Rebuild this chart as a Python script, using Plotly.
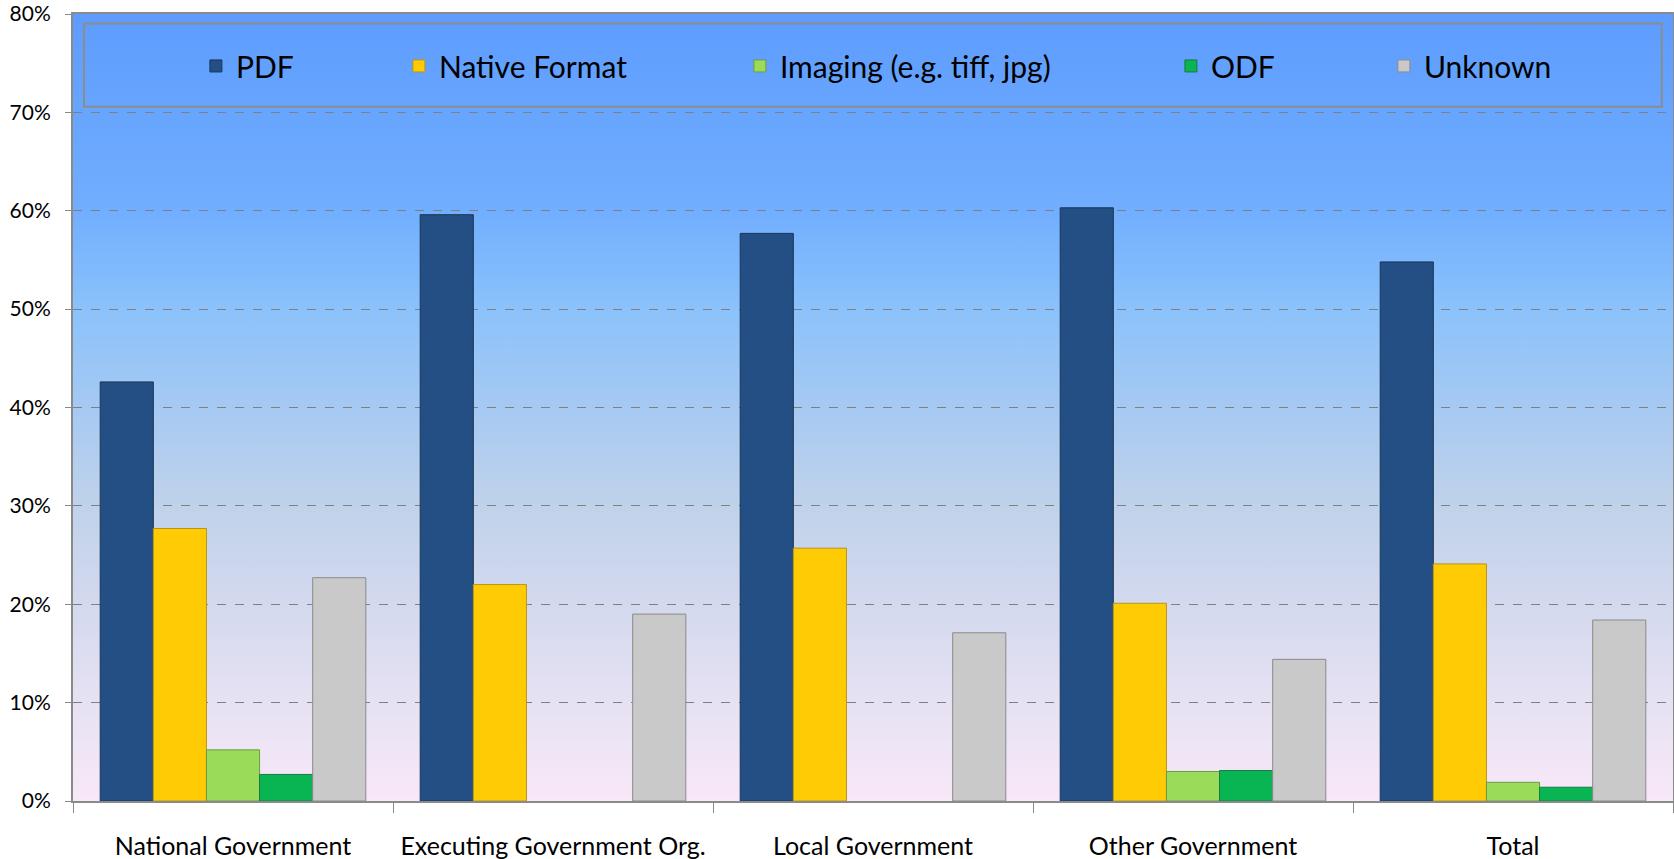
import base64
import plotly.graph_objects as go

categories = ["National Government", "Executing Government Org.", "Local Government",
              "Other Government", "Total"]
series_names = ["PDF", "Native Format", "Imaging (e.g. tiff, jpg)", "ODF", "Unknown"]
pdf = [0.426, 0.596, 0.577, 0.603, 0.548]
native_format = [0.277, 0.220, 0.257, 0.201, 0.241]
imaging = [0.052, 0.0, 0.0, 0.030, 0.019]
odf = [0.027, 0.0, 0.0, 0.031, 0.014]
unknown = [0.227, 0.190, 0.171, 0.144, 0.184]
y_ticks = [0, 0.1, 0.2, 0.3, 0.4, 0.5, 0.6, 0.7, 0.8]

series_values = [pdf, native_format, imaging, odf, unknown]
colors = ["#244f84", "#ffcb05", "#9bdb5a", "#08b552", "#c9c9c9"]
line_colors = ["#1a3558", "#b8941a", "#6f9a45", "#1a7a45", "#8a8a8a"]
legend_x = [0.0768, 0.2037, 0.4168, 0.6862, 0.8193]
legend_ids = ["legend", "legend2", "legend3", "legend4", "legend5"]

FONT = "Lato"

fig = go.Figure()
for name, vals, c, lc, lid in zip(series_names, series_values, colors, line_colors, legend_ids):
    fig.add_trace(go.Bar(
        x=categories, y=vals, name=name, legend=lid, showlegend=True,
        marker=dict(color=c, line=dict(color=lc, width=[1 if v > 0 else 0 for v in vals])),
    ))

# gradient background as SVG image
svg = ('<svg xmlns="http://www.w3.org/2000/svg" width="100" height="100" preserveAspectRatio="none">'
       '<defs><linearGradient id="g" x1="0" y1="0" x2="0" y2="1">'
       '<stop offset="0" stop-color="#5d9cfe"/>'
       '<stop offset="0.25" stop-color="#71aefe"/>'
       '<stop offset="0.375" stop-color="#8bc2fb"/>'
       '<stop offset="0.5" stop-color="#a6c9f2"/>'
       '<stop offset="0.625" stop-color="#c0d2ea"/>'
       '<stop offset="0.75" stop-color="#d3d9ee"/>'
       '<stop offset="0.875" stop-color="#e6e2f3"/>'
       '<stop offset="1" stop-color="#f8e8f8"/>'
       '</linearGradient></defs><rect width="100" height="100" fill="url(#g)"/></svg>')
src = "data:image/svg+xml;base64," + base64.b64encode(svg.encode()).decode()

legends = {}
for lid, lx in zip(legend_ids, legend_x):
    legends[lid] = dict(x=lx, y=0.934, xanchor="left", yanchor="middle",
                        orientation="h", bgcolor="rgba(0,0,0,0)",
                        font=dict(family=FONT, size=30, color="#000000"))

fig.update_layout(
    width=1674, height=859,
    margin=dict(l=73, r=1, t=14, b=58),
    paper_bgcolor="white",
    plot_bgcolor="rgba(0,0,0,0)",
    showlegend=True,
    barmode="group", bargap=0.17, bargroupgap=0,
    font=dict(family=FONT, color="#000000"),
    images=[dict(source=src, xref="paper", yref="paper", x=0, y=1, sizex=1, sizey=1,
                 sizing="stretch", layer="below", xanchor="left", yanchor="top")],
    shapes=[dict(type="rect", xref="paper", yref="paper", x0=0.0069, x1=0.993,
                 y0=0.882, y1=0.988, line=dict(color="#8c8c8c", width=2),
                 fillcolor="rgba(0,0,0,0)", layer="above")],
    **legends,
)
fig.update_yaxes(range=[0, 0.8], tickvals=y_ticks, tickformat=".0%",
                 showgrid=True, gridcolor="#808080", griddash="dash", gridwidth=1.3,
                 showline=True, linecolor="#8a8a8a", linewidth=2, mirror=True,
                 ticks="outside", ticklen=6, tickcolor="#8a8a8a",
                 tickfont=dict(family=FONT, size=21), ticklabelstandoff=10,
                 zeroline=False, automargin=False)
fig.update_xaxes(showline=True, linecolor="#8a8a8a", linewidth=2, mirror=True,
                 ticks="outside", ticklen=10, tickcolor="#8a8a8a", tickson="boundaries",
                 tickfont=dict(family=FONT, size=25), ticklabelstandoff=22,
                 showgrid=False, automargin=False)

fig.write_html("out.html", config={"displayModeBar": False},
               post_script="document.body.style.margin='0';")
